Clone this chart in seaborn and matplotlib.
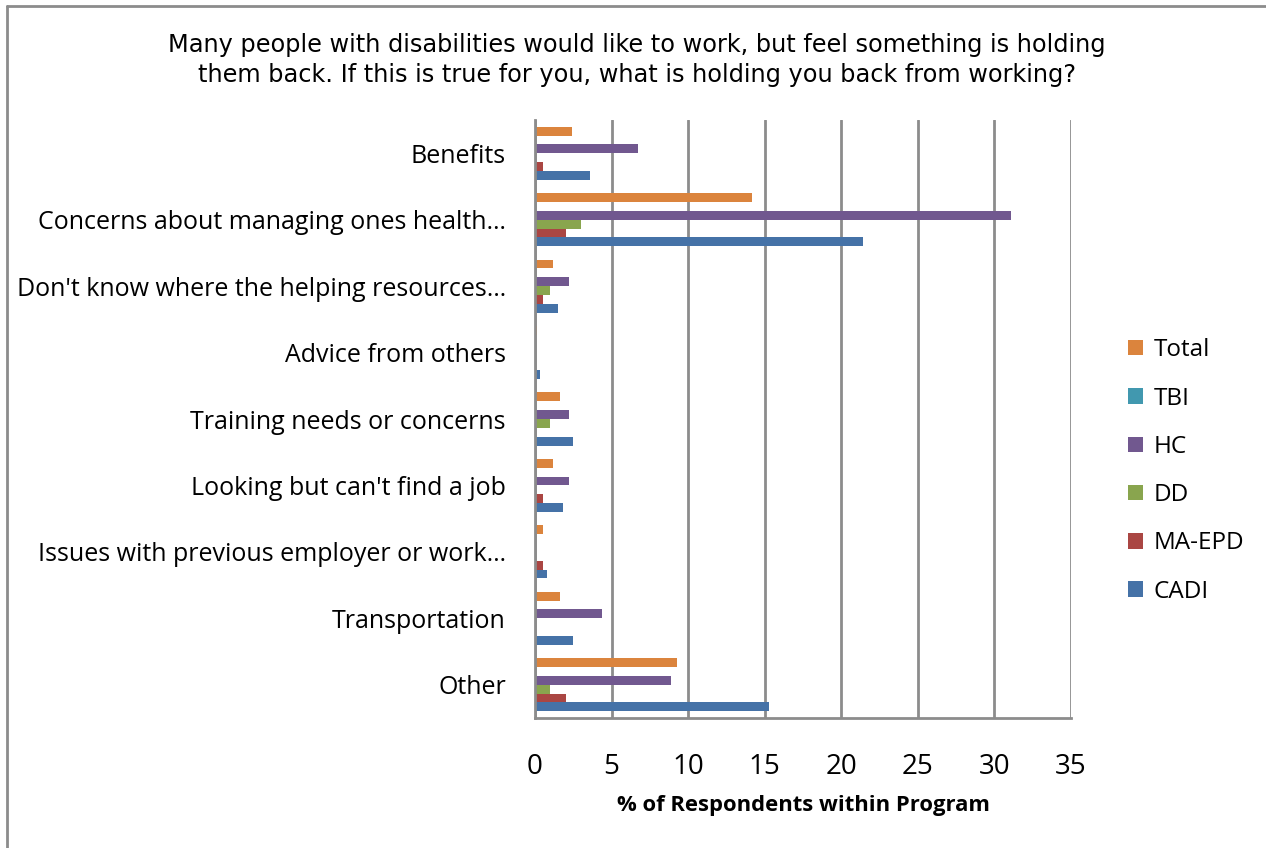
import matplotlib
matplotlib.use("Agg")
import matplotlib.pyplot as plt
import seaborn as sns
import pandas as pd
from matplotlib.patches import Patch
from matplotlib.lines import Line2D

categories = [
    "Benefits",
    "Concerns about managing ones health…",
    "Don't know where the helping resources…",
    "Advice from others",
    "Training needs or concerns",
    "Looking but can't find a job",
    "Issues with previous employer or work…",
    "Transportation",
    "Other",
]
series_names = ["Total", "TBI", "HC", "DD", "MA-EPD", "CADI"]
total = [2.4, 14.2, 1.2, 0.1, 1.6, 1.2, 0.5, 1.6, 9.3]
tbi = [0, 0, 0, 0, 0, 0, 0, 0, 0]
hc = [6.7, 31.1, 2.2, 0, 2.2, 2.2, 0, 4.4, 8.9]
dd = [0, 3.0, 1.0, 0, 1.0, 0, 0, 0, 1.0]
ma_epd = [0.5, 2.0, 0.5, 0, 0, 0.5, 0.5, 0, 2.0]
cadi = [3.6, 21.4, 1.5, 0.3, 2.5, 1.8, 0.8, 2.5, 15.3]
colors = ["#DB843D", "#4198AF", "#71588F", "#89A54E", "#AA4643", "#4572A7"]

values = [total, tbi, hc, dd, ma_epd, cadi]
rows = []
for name, vals in zip(series_names, values):
    for cat, v in zip(categories, vals):
        rows.append({"Category": cat, "Program": name, "Value": v})
df = pd.DataFrame(rows)

sns.set_theme(style="white")
plt.rcParams["font.family"] = ["Open Sans", "DejaVu Sans"]
plt.rcParams["text.color"] = "black"
plt.rcParams["axes.labelcolor"] = "black"
plt.rcParams["xtick.labelcolor"] = "black"
plt.rcParams["ytick.labelcolor"] = "black"

fig = plt.figure(figsize=(12.66, 8.48), dpi=100)
W, H = 1266, 848
ax = fig.add_axes([535 / W, 1 - 718 / H, (1071 - 535) / W, (718 - 120) / H])

sns.barplot(data=df, y="Category", x="Value", hue="Program", order=categories,
            hue_order=series_names, palette=colors, orient="h", width=0.8,
            saturation=1, ax=ax, legend=False, edgecolor="none")

ax.set_xlim(0, 35)
ax.set_ylim(len(categories) - 0.5, -0.5)
ax.set_xticks(range(0, 36, 5))
ax.set_xticklabels([str(v) for v in range(0, 36, 5)], fontsize=20)
ax.tick_params(axis="x", direction="out", length=8, width=1.5, color="#8c8c8c", pad=17)
ax.tick_params(axis="y", which="major", length=0, pad=21, labelsize=18)
ax.set_yticks([i - 0.5 for i in range(len(categories) + 1)], minor=True)
ax.tick_params(axis="y", which="minor", direction="out", length=7, width=1.5, color="#8c8c8c")
ax.grid(axis="x", color="#8c8c8c", linewidth=2)
ax.set_axisbelow(True)
for s in ["top", "right"]:
    ax.spines[s].set_visible(False)
for s in ["left", "bottom"]:
    ax.spines[s].set_color("#8c8c8c")
    ax.spines[s].set_linewidth(2)
ax.set_ylabel("")
ax.set_xlabel("% of Respondents within Program", fontsize=15.8, fontweight="bold", labelpad=10)

fig.text(637 / W, 1 - 60 / H,
         "Many people with disabilities would like to work, but feel something is holding\n"
         "them back. If this is true for you, what is holding you back from working?",
         ha="center", va="center", fontsize=17.3, family=["DejaVu Sans"], linespacing=1.3)

handles = [Patch(facecolor=c, edgecolor="none") for c in colors]
leg = fig.legend(handles, series_names, loc="center left", bbox_to_anchor=(1128 / W, 1 - 471 / H),
                 frameon=False, fontsize=17.5, handlelength=0.6, handleheight=0.6,
                 handletextpad=0.45, labelspacing=1.0, borderpad=0, borderaxespad=0)

# outer border (top and left visible)
fig.add_artist(Line2D([7 / W, 7 / W], [0, 1 - 6 / H], transform=fig.transFigure, color="#8c8c8c", lw=2))
fig.add_artist(Line2D([7 / W, 1], [1 - 6 / H, 1 - 6 / H], transform=fig.transFigure, color="#8c8c8c", lw=2))

fig.savefig("out.png", dpi=100)
